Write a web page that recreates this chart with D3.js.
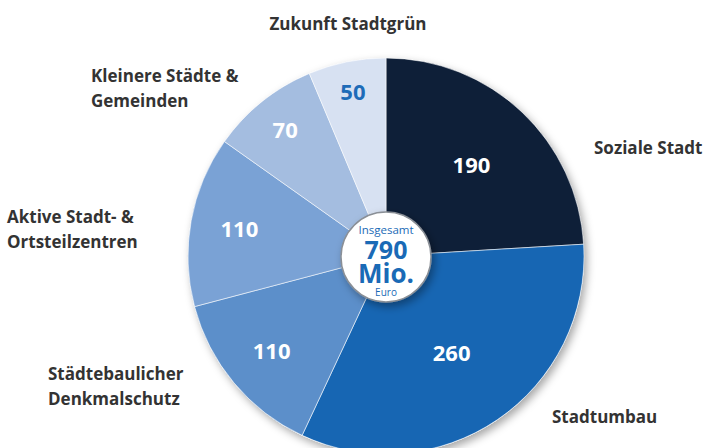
<!DOCTYPE html>
<html>
<head>
<meta charset="utf-8">
<script src="https://cdn.jsdelivr.net/npm/d3@7"></script>
<style>
  body { margin: 0; background: #fff; }
  svg { display: block; font-family: "Open Sans", sans-serif; }
</style>
</head>
<body>
<svg id="chart" width="706" height="448"></svg>
<script>
const width = 706;
const height = 448;

// Programme und Mittel (Mio. Euro), im Uhrzeigersinn ab 12 Uhr
const programmes = ["Soziale Stadt", "Stadtumbau", "Städtebaulicher Denkmalschutz",
    "Aktive Stadt- & Ortsteilzentren", "Kleinere Städte & Gemeinden", "Zukunft Stadtgrün"];
const amounts = [190, 260, 110, 110, 70, 50];
const sliceColors = ["#0e1f38", "#1766b3", "#5c8fca", "#7aa2d5", "#a4bde0", "#d7e1f2"];
const labelColors = ["#fff", "#fff", "#fff", "#fff", "#fff", "#1e6bb8"];

// Beschriftung außen (Zeilen)
const outerLabels = [
    { lines: ["Soziale Stadt"], x: 594, y: 148 },
    { lines: ["Stadtumbau"], x: 552, y: 417 },
    { lines: ["Städtebaulicher", "Denkmalschutz"], x: 48, y: 374 },
    { lines: ["Aktive Stadt- &", "Ortsteilzentren"], x: 7, y: 217 },
    { lines: ["Kleinere Städte &", "Gemeinden"], x: 91, y: 76 },
    { lines: ["Zukunft Stadtgrün"], x: 348, y: 24, anchor: "middle" }
];

const total = d3.sum(amounts);
const cx = 386, cy = 256, radius = 198;

const svg = d3.select("#chart");

const defs = svg.append("defs");
const shadow = defs.append("filter").attr("id", "shadow")
    .attr("x", "-20%").attr("y", "-20%").attr("width", "140%").attr("height", "140%");
shadow.append("feDropShadow")
    .attr("dx", 3).attr("dy", 4).attr("stdDeviation", 4)
    .attr("flood-color", "#000").attr("flood-opacity", 0.35);

const pie = d3.pie().sort(null).value(d => d);
const arcs = pie(amounts);
const arc = d3.arc().innerRadius(0).outerRadius(radius);

const g = svg.append("g").attr("transform", `translate(${cx},${cy})`);

g.append("circle").attr("r", radius).attr("fill", "#fff")
    .attr("filter", "url(#shadow)");

g.selectAll("path.slice")
    .data(arcs)
    .join("path")
    .attr("class", "slice")
    .attr("d", arc)
    .attr("fill", (d, i) => sliceColors[i])
    .attr("stroke", "rgba(255,255,255,0.55)")
    .attr("stroke-width", 1);

// Werte: kleinere Segmente weiter außen
g.selectAll("text.value")
    .data(arcs)
    .join("text")
    .attr("class", "value")
    .attr("transform", d => {
        const r = radius * Math.max(0.59, 0.922 - 0.00154 * d.value);
        const a = (d.startAngle + d.endAngle) / 2;
        return `translate(${Math.sin(a) * r},${-Math.cos(a) * r})`;
    })
    .attr("text-anchor", "middle")
    .attr("dy", "0.36em")
    .attr("fill", (d, i) => labelColors[i])
    .attr("font-size", 22)
    .attr("font-weight", 700)
    .text(d => d.value);

// Mitte
const mid = g.append("g").attr("transform", "translate(0,1)");
mid.append("circle").attr("r", 45)
    .attr("fill", "#fff")
    .attr("stroke", "#8a8f96")
    .attr("stroke-width", 1.5)
    .attr("filter", "url(#shadow)");
const blue = "#1a6ab6";
mid.append("text").attr("y", -23).attr("text-anchor", "middle")
    .attr("fill", blue).attr("font-size", 11.5).text("Insgesamt");
mid.append("text").attr("y", 2).attr("text-anchor", "middle")
    .attr("fill", blue).attr("font-size", 25).attr("font-weight", 700).text(total);
mid.append("text").attr("y", 26).attr("text-anchor", "middle")
    .attr("fill", blue).attr("font-size", 26).attr("font-weight", 700).text("Mio.");
mid.append("text").attr("y", 39).attr("text-anchor", "middle")
    .attr("fill", blue).attr("font-size", 10).text("Euro");

// Außenbeschriftung
const lab = svg.selectAll("text.cat")
    .data(outerLabels)
    .join("text")
    .attr("class", "cat")
    .attr("x", d => d.x)
    .attr("y", d => d.y)
    .attr("text-anchor", d => d.anchor || "start")
    .attr("fill", "#333")
    .attr("font-size", 17)
    .attr("font-weight", 700);
lab.selectAll("tspan")
    .data(d => d.lines.map(l => ({ l, x: d.x })))
    .join("tspan")
    .attr("x", d => d.x)
    .attr("dy", (d, i) => i === 0 ? "0.35em" : 25)
    .text(d => d.l);
</script>
</body>
</html>
